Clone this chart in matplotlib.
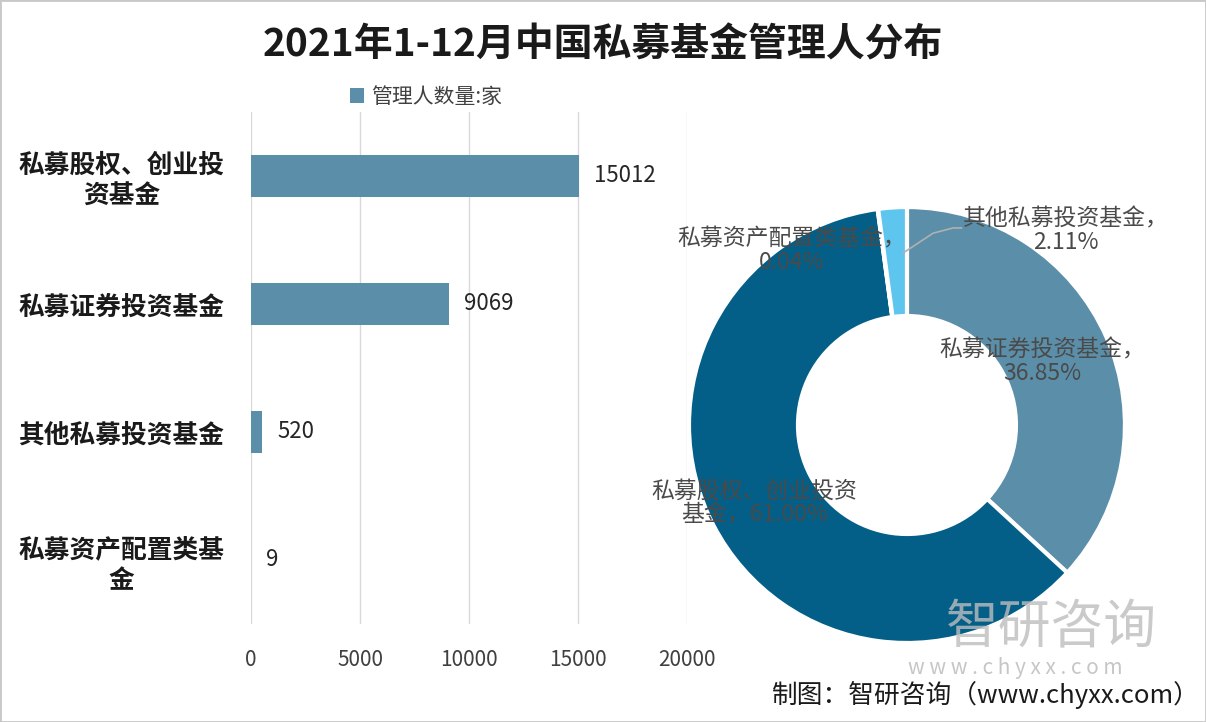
import matplotlib
matplotlib.use("Agg")
import matplotlib.pyplot as plt
from matplotlib.patches import Rectangle

plt.rcParams['font.family'] = ['Noto Sans CJK SC', 'DejaVu Sans']

# bar data (top to bottom)
bar_labels = ["私募股权、创业投\n资基金", "私募证券投资基金", "其他私募投资基金", "私募资产配置类基\n金"]
bar_values = [15012, 9069, 520, 9]

# donut data (clockwise from top)
pie_names = ["私募证券投资基金", "私募股权、创业投资基金", "私募资产配置类基金", "其他私募投资基金"]
pie_values = [9069, 15012, 9, 520]
pie_colors = ["#5b8fa9", "#035f87", "#1f4e79", "#5ec5ee"]

fig = plt.figure(figsize=(12.06, 7.22), dpi=100)

fig.text(0.5, 0.937, "2021年1-12月中国私募基金管理人分布", ha='center', va='center',
         fontsize=28, fontweight='bold', color='#1a1a1a')

# ---- bar chart ----
ax = fig.add_axes([0.208, 0.136, 0.362, 0.709])
y = list(range(len(bar_values)))
bars = ax.barh(y, bar_values, height=0.33, color='#5b8fa9', label='管理人数量:家', zorder=3)
ax.set_xlim(0, 20000)
ax.set_ylim(len(bar_values) - 0.5, -0.5)
ax.set_xticks([0, 5000, 10000, 15000, 20000])
ax.set_yticks(y)
ax.set_yticklabels(bar_labels, fontsize=18.5, fontweight='bold', color='#1a1a1a')
for lab in ax.get_yticklabels():
    lab.set_multialignment('center')
ax.tick_params(axis='y', length=0, pad=19)
ax.tick_params(axis='x', length=0, pad=18, labelsize=15, labelcolor='#404040')
ax.grid(axis='x', color='#d9d9d9', linewidth=1, zorder=0)
for s in ax.spines.values():
    s.set_visible(False)
for b, v in zip(bars, bar_values):
    ax.text(v + 700, b.get_y() + b.get_height() / 2, str(v), va='center', ha='left',
            fontsize=16, color='#262626')

fig.legend(handles=[bars], labels=['管理人数量:家'], loc='center', bbox_to_anchor=(0.353, 0.866),
           frameon=False, fontsize=15, labelcolor='#404040', handlelength=0.7, handleheight=0.7,
           handletextpad=0.3)

# ---- donut chart ----
pax = fig.add_axes([0.5713, 0.1094, 0.3615, 0.6039])
pax.pie(pie_values, colors=pie_colors, startangle=90, counterclock=False, radius=1,
        wedgeprops=dict(width=0.5, edgecolor='white', linewidth=3))
pax.set_xlim(-1, 1)
pax.set_ylim(-1, 1)
pax.set_aspect('equal')

total = sum(pie_values)
label_pos = {
    "私募证券投资基金": (0.62, 0.29),
    "私募股权、创业投资基金": (-0.70, -0.36),
    "私募资产配置类基金": (-0.53, 0.80),
    "其他私募投资基金": (0.73, 0.89),
}
for name, v in zip(pie_names, pie_values):
    pct = f"{v / total * 100:.2f}%"
    if name == "私募股权、创业投资基金":
        txt = "私募股权、创业投资\n基金，" + pct
    else:
        txt = name + "，\n" + pct
    x, yy = label_pos[name]
    pax.text(x, yy, txt, ha='center', va='center', multialignment='center',
             fontsize=16.5, color='#4a4a4a', linespacing=1.05, clip_on=False, zorder=5)
pax.plot([-0.018, 0.12, 0.211, 0.25], [0.789, 0.88, 0.904, 0.904], color='#b0b0b0',
         linewidth=1.2, clip_on=False, zorder=4)

# watermark and source
fig.text(0.872, 0.131, "智研咨询", ha='center', va='center', fontsize=38, color='#bdbdbd', alpha=0.8)
fig.text(0.842, 0.075, "w w w . c h y x x . c o m", ha='center', va='center', fontsize=15,
         color='#c0c0c0', alpha=0.9)
fig.text(0.995, 0.037, "制图：智研咨询（www.chyxx.com）", ha='right', va='center',
         fontsize=18.5, color='#1a1a1a')

fig.patches.append(Rectangle((0, 0), 1, 1, transform=fig.transFigure, fill=False,
                             edgecolor='#c8c8c8', linewidth=2))

fig.savefig("out.png", dpi=100)
